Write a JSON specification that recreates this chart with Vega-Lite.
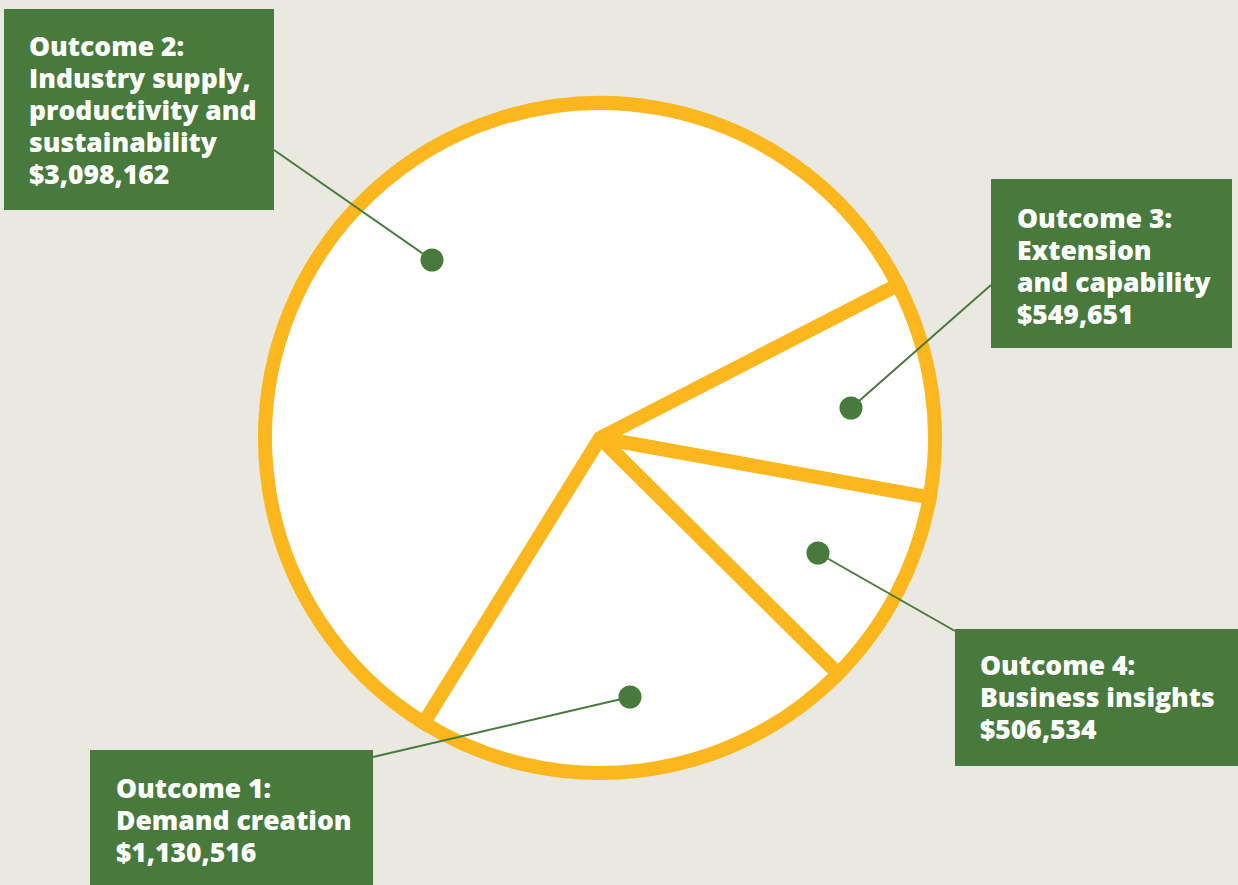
{
  "$schema": "https://vega.github.io/schema/vega-lite/v6.json",
  "width": 1200,
  "height": 876,
  "autosize": "none",
  "padding": {"left": 0, "top": 0, "right": 38, "bottom": 9},
  "background": "#EAE9E1",
  "config": {"view": {"stroke": null}},
  "datasets": {
    "slices": [
      {"outcome": "Outcome 3", "value": 549651, "ord": 1},
      {"outcome": "Outcome 4", "value": 506534, "ord": 2},
      {"outcome": "Outcome 1", "value": 1130516, "ord": 3},
      {"outcome": "Outcome 2", "value": 3098162, "ord": 4}
    ],
    "notes": [
      {"outcome": "Outcome 2", "dx": 432, "dy": 260, "lx": 274, "ly": 150, "bx": 4, "bx2": 274, "by": 9, "by2": 210, "tx": 29, "ty": 48,
       "label": "Outcome 2:\nIndustry supply,\nproductivity and\nsustainability\n$3,098,162"},
      {"outcome": "Outcome 3", "dx": 851, "dy": 408, "lx": 991, "ly": 285, "bx": 991, "bx2": 1232, "by": 179, "by2": 348, "tx": 1017, "ty": 220,
       "label": "Outcome 3:\nExtension\nand capability\n$549,651"},
      {"outcome": "Outcome 4", "dx": 818, "dy": 553, "lx": 955, "ly": 631, "bx": 955, "bx2": 1238, "by": 629, "by2": 766, "tx": 980, "ty": 667,
       "label": "Outcome 4:\nBusiness insights\n$506,534"},
      {"outcome": "Outcome 1", "dx": 630, "dy": 697, "lx": 373, "ly": 757, "bx": 90, "bx2": 373, "by": 750, "by2": 885, "tx": 116, "ty": 790,
       "label": "Outcome 1:\nDemand creation\n$1,130,516"}
    ]
  },
  "layer": [
    {
      "data": {"name": "slices"},
      "mark": {"type": "arc", "outerRadius": 335, "fill": "#FFFFFF", "stroke": "#FCB71E", "strokeWidth": 14, "strokeJoin": "miter"},
      "encoding": {
        "theta": {"field": "value", "type": "quantitative", "stack": true, "scale": {"range": [1.096, 7.379]}},
        "order": {"field": "ord", "type": "quantitative"}
      }
    },
    {
      "data": {"name": "notes"},
      "mark": {"type": "rule", "color": "#477A3C", "strokeWidth": 2},
      "encoding": {
        "x": {"field": "dx", "type": "quantitative", "scale": {"domain": [0, 1200], "nice": false, "zero": false}, "axis": null},
        "y": {"field": "dy", "type": "quantitative", "scale": {"domain": [0, 876], "nice": false, "zero": false, "reverse": true}, "axis": null},
        "x2": {"field": "lx"},
        "y2": {"field": "ly"}
      }
    },
    {
      "data": {"name": "notes"},
      "mark": {"type": "circle", "color": "#477A3C", "opacity": 1, "size": 530},
      "encoding": {
        "x": {"field": "dx", "type": "quantitative"},
        "y": {"field": "dy", "type": "quantitative"}
      }
    },
    {
      "data": {"name": "notes"},
      "mark": {"type": "rect", "color": "#477A3C"},
      "encoding": {
        "x": {"field": "bx", "type": "quantitative"},
        "x2": {"field": "bx2"},
        "y": {"field": "by", "type": "quantitative"},
        "y2": {"field": "by2"}
      }
    },
    {
      "data": {"name": "notes"},
      "mark": {"type": "text", "align": "left", "baseline": "middle", "lineBreak": "\n", "lineHeight": 32, "font": "Open Sans", "fontWeight": 800, "fontSize": 26.5, "color": "#FFFFFF"},
      "encoding": {
        "x": {"field": "tx", "type": "quantitative"},
        "y": {"field": "ty", "type": "quantitative"},
        "text": {"field": "label", "type": "nominal"}
      }
    }
  ]
}
